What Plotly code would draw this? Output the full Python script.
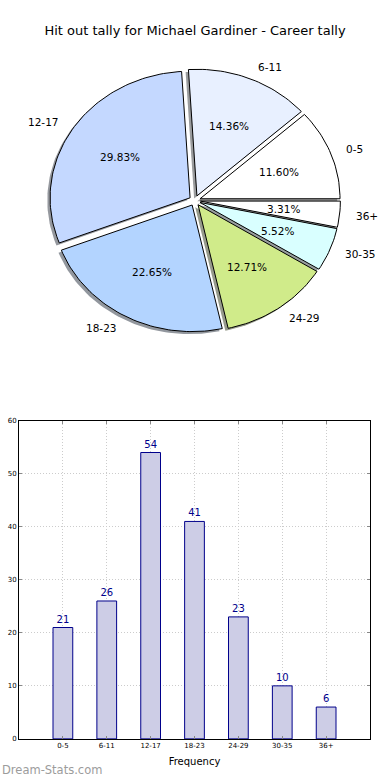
import numpy as np
import plotly.graph_objects as go

# ---- data ----
categories = ["0-5", "6-11", "12-17", "18-23", "24-29", "30-35", "36+"]
counts = [21, 26, 54, 41, 23, 10, 6]
slice_colors = ["#ffffff", "#e8f0ff", "#c4d8ff", "#b3d4ff", "#d0eb8a", "#d9ffff", "#ffffff"]
y_ticks = [0, 10, 20, 30, 40, 50, 60]
title_text = "Hit out tally for Michael Gardiner - Career tally"

W, H = 390, 780
FONT = "DejaVu Sans"
explode = 0.04
shadow_dx, shadow_dy = -0.02, -0.02

fig = go.Figure()


def hex_rgb(h):
    h = h.lstrip("#")
    return [int(h[i:i + 2], 16) for i in (0, 2, 4)]


total = float(sum(counts))
wedges = []
theta = 0.0
for cat, c, col in zip(categories, counts, slice_colors):
    t1 = theta
    t2 = theta + 360.0 * c / total
    mid = np.deg2rad((t1 + t2) / 2)
    ex, ey = explode * np.cos(mid), explode * np.sin(mid)
    n = max(int((t2 - t1) / 1.5) + 2, 3)
    ang = np.deg2rad(np.linspace(t1, t2, n))
    xs = np.concatenate([[ex], ex + np.cos(ang), [ex]])
    ys = np.concatenate([[ey], ey + np.sin(ang), [ey]])
    wedges.append((cat, c, col, xs, ys, mid, ex, ey))
    theta = t2

# shadows first
for cat, c, col, xs, ys, mid, ex, ey in wedges:
    r, g, b = [int(0.15 * v + 120) for v in hex_rgb(col)]
    fig.add_trace(go.Scatter(x=xs + shadow_dx, y=ys + shadow_dy, mode="lines", fill="toself",
                             fillcolor=f"rgb({r},{g},{b})", line=dict(width=0),
                             hoverinfo="skip", showlegend=False, xaxis="x", yaxis="y"))

for cat, c, col, xs, ys, mid, ex, ey in wedges:
    fig.add_trace(go.Scatter(x=xs, y=ys, mode="lines", fill="toself", fillcolor=col,
                             line=dict(color="#000000", width=1),
                             name=cat, showlegend=False, xaxis="x", yaxis="y"))

annotations = []
for cat, c, col, xs, ys, mid, ex, ey in wedges:
    lx = ex + 1.1 * np.cos(mid)
    ly = ey + 1.1 * np.sin(mid)
    annotations.append(dict(x=lx, y=ly, xref="x", yref="y", text=cat, showarrow=False,
                            xanchor="left" if lx > ex else "right", yanchor="middle",
                            font=dict(family=FONT, size=10.5, color="#000000")))
    px = ex + 0.6 * np.cos(mid)
    py = ey + 0.6 * np.sin(mid)
    annotations.append(dict(x=px, y=py, xref="x", yref="y", text=f"{100 * c / total:.2f}%",
                            showarrow=False, xanchor="center", yanchor="middle",
                            font=dict(family=FONT, size=10.5, color="#000000")))

# ---- bar chart ----
fig.add_trace(go.Bar(x=categories, y=counts, width=0.45, xaxis="x2", yaxis="y2",
                     marker=dict(color="#cdcde6", line=dict(color="#00008b", width=1)),
                     text=[str(v) for v in counts], textposition="outside", cliponaxis=False,
                     textfont=dict(family=FONT, size=10, color="#00008b"),
                     showlegend=False))

# pie axes geometry (pixels -> data)
cx, cy, sx, sy = 194.8, 198.6, 140.0, 127.9
pie_top_px, pie_bot_px = 40, 360

# bar axes geometry
bx0, bx1, by0, by1 = 19, 370, 421, 742.5

annotations.append(dict(x=0, y=1 - 774 / H, xref="paper", yref="paper", text="Dream-Stats.com",
                        showarrow=False, xanchor="left", yanchor="middle",
                        font=dict(family=FONT, size=11.5, color="#9c9c9c")))

grid = dict(showgrid=True, gridcolor="#cccccc", griddash="1px,2px", gridwidth=1)

fig.update_layout(
    width=W, height=H, margin=dict(l=0, r=0, t=0, b=0),
    paper_bgcolor="white", plot_bgcolor="white",
    title=dict(text=title_text, x=0.5, xanchor="center", y=1 - 30 / H, yanchor="middle",
               font=dict(family=FONT, size=13, color="#000000")),
    xaxis=dict(domain=[0, 1], range=[-cx / sx, (W - cx) / sx], visible=False, fixedrange=True),
    yaxis=dict(domain=[1 - pie_bot_px / H, 1 - pie_top_px / H],
               range=[(cy - pie_bot_px) / sy, (cy - pie_top_px) / sy], visible=False,
               fixedrange=True, anchor="x"),
    xaxis2=dict(domain=[bx0 / W, bx1 / W], anchor="y2", type="category", range=[-1, 7],
                showline=True, linecolor="#000000", linewidth=1, mirror="ticks",
                ticks="inside", ticklen=3, tickcolor="#888888", **grid,
                tickfont=dict(family=FONT, size=7, color="#000000"),
                title=dict(text="Frequency", standoff=8, font=dict(family=FONT, size=10, color="#000000"))),
    yaxis2=dict(domain=[1 - by1 / H, 1 - by0 / H], anchor="x2", range=[0, 60],
                tickvals=y_ticks, showline=True, linecolor="#000000", linewidth=1, mirror="ticks",
                ticks="inside", ticklen=3, tickcolor="#888888", zeroline=False, **grid,
                tickfont=dict(family=FONT, size=7, color="#000000")),
    annotations=annotations,
    font=dict(family=FONT),
    hovermode=False,
)

fig.write_html("out.html", config={"displayModeBar": False},
               post_script="document.body.style.margin='0';document.body.style.padding='0';")
